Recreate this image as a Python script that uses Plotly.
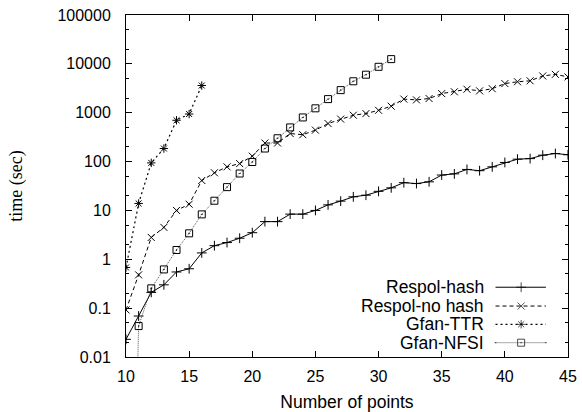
import plotly.graph_objects as go

# ---- data ----
points = list(range(10, 46))

respol_hash = [0.023, 0.069, 0.21, 0.30, 0.55, 0.64, 1.35, 1.9, 2.2, 2.7,
               3.5, 5.9, 5.9, 8.4, 8.4, 10, 13, 15.5, 19, 20.5,
               24.6, 29, 37, 35.5, 38.5, 53, 56, 69, 65, 78,
               96, 112, 115, 135, 146, 138]

respol_nohash = [0.092, 0.48, 2.8, 4.5, 10, 13.4, 41, 59, 78, 91,
                 129, 240, 240, 375, 355, 440, 600, 740, 890, 960,
                 1120, 1360, 1900, 1830, 1950, 2460, 2680, 3020, 2800, 3100,
                 3950, 4300, 4500, 5650, 6100, 5400]

ttr_points = list(range(10, 17))
gfan_ttr = [0.68, 13.9, 94, 185, 700, 940, 3600]

nfsi_points = list(range(10, 32))
gfan_nfsi = [1e-12, 0.043, 0.254, 0.62, 1.55, 3.4, 8.3, 15.8, 30, 57,
             98, 185, 300, 500, 800, 1230, 1900, 2900, 4400, 6000,
             8700, 12500]

series_names = ["Respol-hash", "Respol-no hash", "Gfan-TTR", "Gfan-NFSI"]

y_tickvals = [0.01, 0.1, 1, 10, 100, 1000, 10000, 100000]
y_ticktext = ["0.01", "0.1", "1", "10", "100", "1000", "10000", "100000"]
x_tickvals = [10, 15, 20, 25, 30, 35, 40, 45]

# ---- styles ----
styles = [
    dict(dash="solid", width=1, color="black", symbol="cross-thin-open", size=7),
    dict(dash="4px,3px", width=1, color="black", symbol="x-thin-open", size=7),
    dict(dash="2px,3px", width=1.2, color="black", symbol="asterisk-open", size=7),
    dict(dash="1px,1px", width=1, color="#555555", symbol="square-open-dot", size=7),
]

data_x = [points, points, ttr_points, nfsi_points]
data_y = [respol_hash, respol_nohash, gfan_ttr, gfan_nfsi]

fig = go.Figure()
for xs, ys, st, name in zip(data_x, data_y, styles, series_names):
    fig.add_trace(go.Scatter(
        x=xs, y=ys, mode="lines+markers", name=name, showlegend=False,
        line=dict(color=st["color"], width=st["width"], dash=st["dash"]),
        marker=dict(symbol=st["symbol"], size=st["size"],
                    color="black", line=dict(width=1, color="black")),
        cliponaxis=True,
    ))

# ---- custom gnuplot-style key (text left, sample right) ----
key_rows_y = [0.204, 0.149, 0.0956, 0.0418]
key_x = [0.836, 0.894, 0.950]
key_text_x = 0.812
for st, name, ry in zip(styles, series_names, key_rows_y):
    fig.add_trace(go.Scatter(
        x=key_x, y=[ry, ry, ry], xaxis="x2", yaxis="y2",
        mode="lines+markers", showlegend=False, hoverinfo="skip",
        line=dict(color=st["color"], width=st["width"], dash=st["dash"]),
        marker=dict(symbol=st["symbol"], size=[0, st["size"], 0],
                    color="black", line=dict(width=1, color="black")),
    ))
    fig.add_annotation(x=key_text_x, y=ry, xref="x domain", yref="y domain",
                       text=name, showarrow=False, xanchor="right",
                       yanchor="middle", borderpad=0,
                       font=dict(family="Liberation Sans", size=17.5, color="black"))

fig.update_layout(
    width=582, height=412,
    margin=dict(l=126, r=14, t=15, b=55),
    paper_bgcolor="white", plot_bgcolor="white",
    font=dict(family="Liberation Sans", size=16, color="black"),
    xaxis=dict(
        range=[10, 45], tickvals=x_tickvals, ticks="inside", ticklen=6,
        tickcolor="black", showline=True, linecolor="black", linewidth=1,
        mirror="ticks", showgrid=False, zeroline=False, automargin=False,
        ticklabelstandoff=5,
        tickfont=dict(size=16),
        title=dict(text="Number of points", standoff=17,
                   font=dict(family="Liberation Sans", size=17.5)),
    ),
    yaxis=dict(
        type="log", range=[-2, 5], tickvals=y_tickvals, ticktext=y_ticktext,
        ticks="inside", ticklen=6, tickcolor="black", showline=True,
        linecolor="black", linewidth=1, mirror="ticks", showgrid=False,
        zeroline=False, ticklabelstandoff=11, automargin=False,
        tickfont=dict(size=16),
        minor=dict(ticks="inside", ticklen=3, dtick="D2", tickcolor="black",
                   showgrid=False),
        title=dict(text="time (sec)", standoff=30,
                   font=dict(family="Liberation Serif", size=18)),
    ),
    xaxis2=dict(range=[0, 1], visible=False, overlaying="x", anchor="y2"),
    yaxis2=dict(range=[0, 1], visible=False, overlaying="y", anchor="x2"),
)

fig.write_html("out.html")
